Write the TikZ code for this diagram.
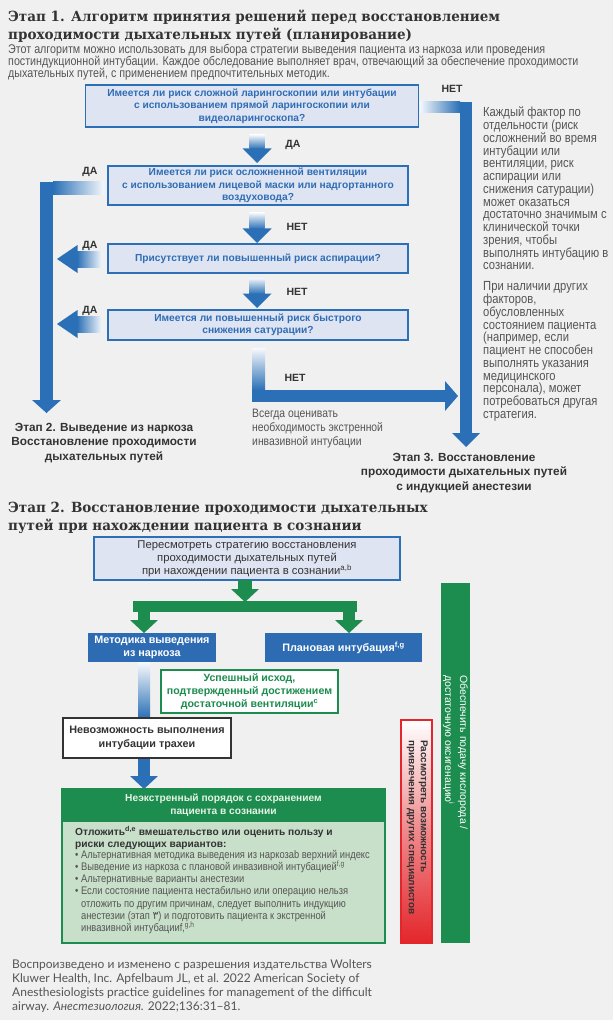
\documentclass[tikz,border=0pt]{standalone}
\usepackage{fontspec}
\setmainfont{Liberation Sans}
\newfontfamily\narrowf[FakeStretch=0.85]{Liberation Sans}
\newfontfamily\titlef[FakeStretch=0.965]{DejaVu Serif}
\newfontfamily\footf{Lato}
\newfontfamily\arabicf{DejaVu Sans}
\definecolor{bg}{HTML}{F0F0F0}
\definecolor{ablue}{HTML}{2B70B6}
\definecolor{boxfill}{HTML}{DFE4F2}
\definecolor{tblue}{HTML}{2F6DB5}
\definecolor{bblue}{HTML}{2D6CB3}
\definecolor{agreen}{HTML}{1D8C4F}
\definecolor{lgreen}{HTML}{C8DFC9}
\definecolor{hgreen}{HTML}{E6F3E6}
\definecolor{ared}{HTML}{E3262B}
\definecolor{dgray}{HTML}{333333}
\definecolor{tgray}{HTML}{555555}
\newcommand\fs[2]{\fontsize{#1}{#2}\selectfont}
% down arrow with shaded shaft: x, top y, tip y
\newcommand\dnarrow[3]{%
  \shade[top color=ablue!6, bottom color=ablue] ({#1-7.5},#2) rectangle ({#1+7.5},{#3-14});
  \fill[ablue] ({#1-14.5},{#3-14.5}) -- ({#1+14.5},{#3-14.5}) -- (#1,#3) -- cycle;}
% left arrow with shaded shaft: y, right x, tip x
\newcommand\ltarrow[3]{%
  \shade[left color=ablue, right color=ablue!5] ({#3+20},{#1-8}) rectangle (#2,{#1+8});
  \fill[ablue] ({#3+20.5},{#1-14}) -- ({#3+20.5},{#1+14}) -- (#3,#1) -- cycle;}
\begin{document}
\begin{tikzpicture}[x=1pt,y=-1pt,
  qbox/.style={draw=ablue, line width=1.6pt, fill=boxfill, text=tblue, font=\bfseries\fs{10.2}{12.5}, align=center, inner sep=0pt},
  lab/.style={font=\bfseries\fs{10.5}{13}, text=dgray, inner sep=0pt},
  note/.style={font=\narrowf\fs{13.2}{12.75}, text=tgray, align=left, inner sep=0pt},
  stage/.style={font=\bfseries\fs{11.8}{14.5}, text=dgray, align=center, inner sep=0pt},
  bluebox/.style={fill=bblue, text=white, font=\bfseries\fs{10.8}{13}, align=center, inner sep=0pt},
]
\fill[bg] (0,0) rectangle (613,1024);
\fill[white] (0,1020) rectangle (613,1024);
\useasboundingbox (0,0) rectangle (613,1024);

% ---------- Stage 1 ----------
\node[anchor=west, align=left, inner sep=0, text=dgray, font=\titlef\bfseries\fs{14}{18}] (title1) at (8,26.5)
  {Этап 1. Алгоритм принятия решений перед восстановлением\\проходимости дыхательных путей (планирование)};
\node[anchor=west, align=left, inner sep=0, text=tgray, font=\narrowf\fs{12.6}{12}] (sub1) at (8,62.5)
  {Этот алгоритм можно использовать для выбора стратегии выведения пациента из наркоза или проведения\\
   постиндукционной интубации. Каждое обследование выполняет врач, отвечающий за обеспечение проходимости\\
   дыхательных путей, с применением предпочтительных методик.};

% arrows (behind boxes)
% top right NO
\shade[left color=ablue!5, right color=ablue] (420,102) rectangle (460,113);
\fill[ablue] (460,102) rectangle (472,433);
\fill[ablue] (452,433) -- (480,433) -- (466,447) -- cycle;
% left YES from q2
\shade[left color=ablue, right color=ablue!5] (53,182) rectangle (104,195);
\fill[ablue] (40,182) rectangle (53,400);
\fill[ablue] (32,400) -- (61,400) -- (46.5,413) -- cycle;
% bottom NO
\shade[top color=ablue!4, bottom color=ablue] (252,348) rectangle (265,390);
\fill[ablue] (252,390) rectangle (445,402);
\fill[ablue] (445,381) -- (445,411) -- (458,396) -- cycle;

\dnarrow{257}{135}{163}
\dnarrow{257}{213}{243}
\dnarrow{257}{278}{308}
\ltarrow{259}{102}{57}
\ltarrow{324}{102}{57}

\node[qbox, minimum width=333, minimum height=42] (q1) at (252,106)
  {Имеется ли риск сложной ларингоскопии или интубации\\с использованием прямой ларингоскопии или\\видеоларингоскопа?};
\node[qbox, minimum width=300, minimum height=39] (q2) at (258,185.5)
  {Имеется ли риск осложненной вентиляции\\с использованием лицевой маски или надгортанного\\воздуховода?};
\node[qbox, minimum width=300, minimum height=29] (q3) at (258,258.5)
  {Присутствует ли повышенный риск аспирации?};
\node[qbox, minimum width=300, minimum height=30] (q4) at (258,325)
  {Имеется ли повышенный риск быстрого\\снижения сатурации?};

\node[lab] (l1) at (293,145) {ДА};
\node[lab] (l2) at (297,227) {НЕТ};
\node[lab] (l3) at (297,292) {НЕТ};
\node[lab] (l4) at (90,172) {ДА};
\node[lab] (l5) at (90,246) {ДА};
\node[lab] (l6) at (90,311) {ДА};
\node[lab] (l7) at (452,89) {НЕТ};
\node[lab] (l8) at (295,378) {НЕТ};

\node[note, anchor=west] (n1) at (483,188.5)
  {Каждый фактор по\\отдельности (риск\\осложнений во время\\интубации или\\вентиляции, риск\\аспирации или\\снижения сатурации)\\может оказаться\\достаточно значимым с\\клинической точки\\зрения, чтобы\\выполнять интубацию в\\сознании.};
\node[note, anchor=west] (n2) at (483,351.5)
  {При наличии других\\факторов,\\обусловленных\\состоянием пациента\\(например, если\\пациент не способен\\выполнять указания\\медицинского\\персонала), может\\потребоваться другая\\стратегия.};
\node[note, anchor=west, font=\narrowf\fs{12.2}{14}] (n3) at (252,429)
  {Всегда оценивать\\необходимость экстренной\\инвазивной интубации};

\node[stage] (s2) at (104,443) {Этап 2. Выведение из наркоза\\Восстановление проходимости\\дыхательных путей};
\node[stage] (s3) at (464,473) {Этап 3. Восстановление\\проходимости дыхательных путей\\с индукцией анестезии};

% ---------- Stage 2 ----------
\node[anchor=west, align=left, inner sep=0, text=dgray, font=\titlef\bfseries\fs{14}{18}] (title2) at (8,517.5)
  {Этап 2. Восстановление проходимости дыхательных\\путей при нахождении пациента в сознании};

\node[draw=ablue, line width=2pt, fill=boxfill, text=dgray, font=\fs{11.3}{12.8}, align=center, inner sep=0,
      minimum width=306, minimum height=43] (b5) at (247,558.5)
  {Пересмотреть стратегию восстановления\\проходимости дыхательных путей\\при нахождении пациента в сознании\textsuperscript{a,b}};

% green tree
\fill[agreen] (238,580) rectangle (252,591);
\fill[agreen] (231,589) -- (259,589) -- (245,602) -- cycle;
\fill[agreen] (133,601) rectangle (357,612);
\fill[agreen] (138,612) rectangle (150,621);
\fill[agreen] (130,620) -- (158,620) -- (144,633) -- cycle;
\fill[agreen] (343,612) rectangle (355,621);
\fill[agreen] (335,620) -- (363,620) -- (349,633) -- cycle;

\node[bluebox, minimum width=128, minimum height=29] (m1) at (152,647.5) {Методика выведения\\из наркоза};
\node[bluebox, minimum width=157, minimum height=29] (m2) at (343.5,647.5) {Плановая интубация\textsuperscript{f,g}};

% blue arrow down
\shade[top color=ablue!3, bottom color=ablue] (138,662) rectangle (150,718);
\fill[ablue] (138,758) rectangle (150,777);
\fill[ablue] (130,776) -- (158,776) -- (144,789) -- cycle;

\node[draw=agreen, line width=2pt, fill=white, text=agreen, font=\bfseries\fs{10.6}{13}, align=center, inner sep=0,
      minimum width=177, minimum height=43] (succ) at (249.5,691.5)
  {Успешный исход,\\подтвержденный достижением\\достаточной вентиляции\textsuperscript{c}};
\node[draw=dgray, line width=2pt, fill=white, text=dgray, font=\bfseries\fs{10.8}{14}, align=center, inner sep=0,
      minimum width=168, minimum height=40] (fail) at (147,738)
  {Невозможность выполнения\\интубации трахеи};

% big green box
\fill[lgreen] (62,822) rectangle (385,943);
\node[fill=agreen, text=hgreen, font=\bfseries\fs{10.2}{13}, align=center, inner sep=0,
      minimum width=323, minimum height=33] (gh) at (223.5,805.5)
  {Неэкстренный порядок с сохранением\\пациента в сознании};
\draw[agreen, line width=2pt] (62,789) rectangle (385,943);
\node[anchor=north west, align=left, inner sep=0, text=dgray, font=\bfseries\fs{10.2}{12}] (gb1) at (75,826)
  {Отложить\textsuperscript{d,e} вмешательство или оценить пользу и\\риски следующих вариантов:};
\node[anchor=north west, align=left, inner sep=0, text=tgray, font=\narrowf\fs{11}{12.2}] (gb2) at (75,850)
  {\textbullet\ Альтернативная методика выведения из наркозаb верхний индекс\\
   \textbullet\ Выведение из наркоза с плановой инвазивной интубацией\textsuperscript{f,g}\\
   \textbullet\ Альтернативные варианты анестезии\\
   \textbullet\ Если состояние пациента нестабильно или операцию нельзя\\
   \hphantom{\textbullet\ }отложить по другим причинам, следует выполнить индукцию\\
   \hphantom{\textbullet\ }анестезии (этап {\arabicf ٣}) и подготовить пациента к экстренной\\
   \hphantom{\textbullet\ }инвазивной интубацииf,\textsuperscript{g,h}};

% red and green vertical bars
\shade[top color=white, bottom color=ared, middle color=ared!55] (401,720) rectangle (432,943);
\draw[ared, line width=1.2pt] (401,720) rectangle (432,943);
\node[rotate=-90, anchor=north west, align=left, inner sep=0, text=dgray, font=\bfseries\fs{10}{12}] (red) at (428,740)
  {Рассмотреть возможность\\привлечения других специалистов};
\fill[agreen] (441,583) rectangle (470,943);
\node[rotate=-90, anchor=north west, align=left, inner sep=0, text=white, font=\fs{10.5}{15}] (oxy) at (468,675)
  {Обеспечить подачу кислорода /\\достаточную оксигенацию\textsuperscript{i}};

% footnote
\node[anchor=west, align=left, inner sep=0, text=tgray, font=\footf\fs{12}{14}] (foot) at (12,986)
  {Воспроизведено и изменено с разрешения издательства Wolters\\
   Kluwer Health, Inc. Apfelbaum JL, et al. 2022 American Society of\\
   Anesthesiologists practice guidelines for management of the difficult\\
   airway. \textit{Анестезиология.} 2022;136:31–81.};
\end{tikzpicture}
\end{document}
